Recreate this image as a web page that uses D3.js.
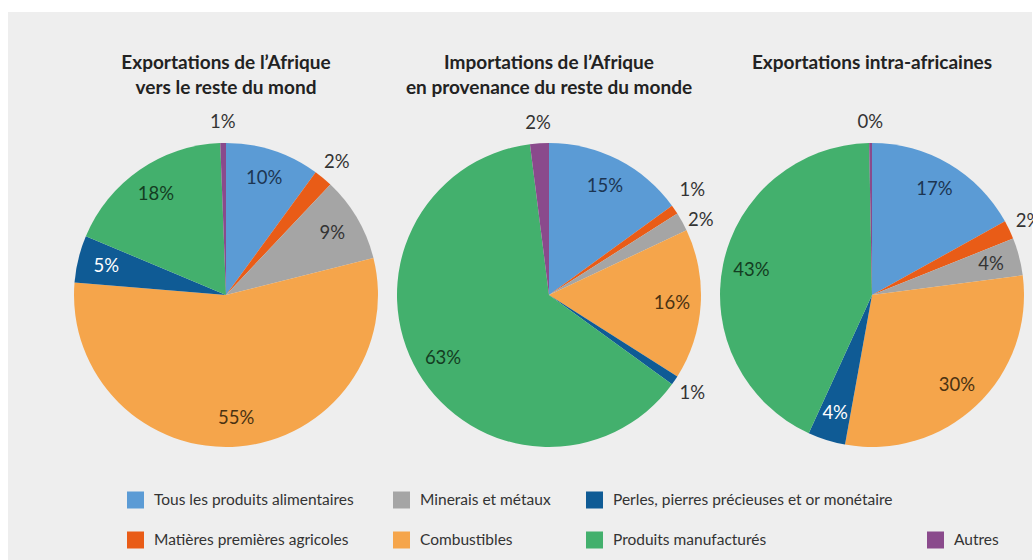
<!DOCTYPE html>
<html>
<head>
<meta charset="utf-8">
<script src="https://cdn.jsdelivr.net/npm/d3@7"></script>
<style>
  body { margin: 0; background: #fff; }
  svg { display: block; font-family: Lato, "Open Sans", sans-serif; }
</style>
</head>
<body>
<div id="my_dataviz"></div>
<script>
// categories, clockwise from 12 o'clock
var categories = [
  "Tous les produits alimentaires",
  "Matières premières agricoles",
  "Minerais et métaux",
  "Combustibles",
  "Perles, pierres précieuses et or monétaire",
  "Produits manufacturés",
  "Autres"
];
var colors = ["#5b9bd5", "#e95c17", "#a5a5a5", "#f5a54b", "#0f5b95", "#43b06d", "#8a4a8c"];
var labelColors = ["#1c3552", "#333", "#333", "#4a3212", "#fff", "#143d22", "#333"];

var titles = [
  ["Exportations de l\u2019Afrique", "vers le reste du mond"],
  ["Importations de l\u2019Afrique", "en provenance du reste du monde"],
  ["Exportations intra-africaines"]
];
var exportsWorld = [10, 2, 9, 55, 5, 18, 0.6];
var importsWorld = [15, 1, 2, 16, 1, 63, 2];
var exportsIntra = [17, 2, 4, 30, 4, 43, 0.3];
var series = [exportsWorld, importsWorld, exportsIntra];

// legend layout: [category index, column, row]
var legendItems = [[0, 0, 0], [2, 1, 0], [4, 2, 0], [1, 0, 1], [3, 1, 1], [5, 2, 1], [6, 3, 1]];

var width = 1033, height = 560;
var svg = d3.select("#my_dataviz").append("svg")
    .attr("width", width).attr("height", height);

svg.append("rect")
    .attr("x", 8).attr("y", 12)
    .attr("width", 1024).attr("height", height - 12)
    .attr("fill", "#eeeeee");

var x = d3.scalePoint().domain([0, 1, 2]).range([226, 872]);
var radius = 152, cy = 295;

var pie = d3.pie().sort(null).value(function(d) { return d; });
var arc = d3.arc().innerRadius(0).outerRadius(radius);
var arcIn = d3.arc().innerRadius(radius * 0.81).outerRadius(radius * 0.81);
var arcOut = d3.arc().innerRadius(radius * 1.14).outerRadius(radius * 1.14);

series.forEach(function(vals, i) {
  var g = svg.append("g").attr("transform", "translate(" + x(i) + "," + cy + ")");
  var arcs = pie(vals);

  g.selectAll("path")
    .data(arcs)
    .enter().append("path")
      .attr("d", arc)
      .attr("fill", function(d, j) { return colors[j]; });

  // label positions, small slices go outside
  arcs.forEach(function(d) {
    d.outside = d.data < 3;
    d.pos = (d.outside ? arcOut : arcIn).centroid(d);
  });
  // push apart outside labels that are too close
  var outs = arcs.filter(function(d) { return d.outside; });
  for (var a = 0; a < outs.length; a++) {
    for (var b = a + 1; b < outs.length; b++) {
      var p = outs[a].pos, q = outs[b].pos;
      if (Math.abs(p[0] - q[0]) < 40 && Math.abs(p[1] - q[1]) < 30) {
        var mid = (p[1] + q[1]) / 2, s = p[1] < q[1] ? -1 : 1;
        p[1] = mid + s * 15; q[1] = mid - s * 15;
      }
    }
  }

  g.selectAll(".lbl")
    .data(arcs)
    .enter().append("text")
      .attr("class", "lbl")
      .attr("transform", function(d) { return "translate(" + d.pos + ")"; })
      .attr("text-anchor", "middle")
      .attr("dy", "0.35em")
      .attr("font-size", 18.5)
      .attr("fill", function(d, j) { return d.outside ? "#333" : labelColors[j]; })
      .text(function(d) { return Math.round(d.data) + "%"; });

  var t = svg.append("text")
      .attr("x", x(i)).attr("y", 69)
      .attr("text-anchor", "middle")
      .attr("font-size", 19)
      .attr("font-weight", "bold")
      .attr("fill", "#222");
  titles[i].forEach(function(line, k) {
    t.append("tspan").attr("x", x(i)).attr("dy", k === 0 ? 0 : 25).text(line);
  });
});

var legX = [127, 393, 586, 927], legY = [500, 540];
var leg = svg.selectAll(".leg")
  .data(legendItems)
  .enter().append("g")
    .attr("transform", function(d) { return "translate(" + legX[d[1]] + "," + legY[d[2]] + ")"; });
leg.append("rect")
  .attr("x", 0).attr("y", -8.5).attr("width", 17).attr("height", 17)
  .attr("fill", function(d) { return colors[d[0]]; });
leg.append("text")
  .attr("x", 27).attr("dy", "0.35em")
  .attr("font-size", 15.5)
  .attr("fill", "#333")
  .text(function(d) { return categories[d[0]]; });
</script>
</body>
</html>
